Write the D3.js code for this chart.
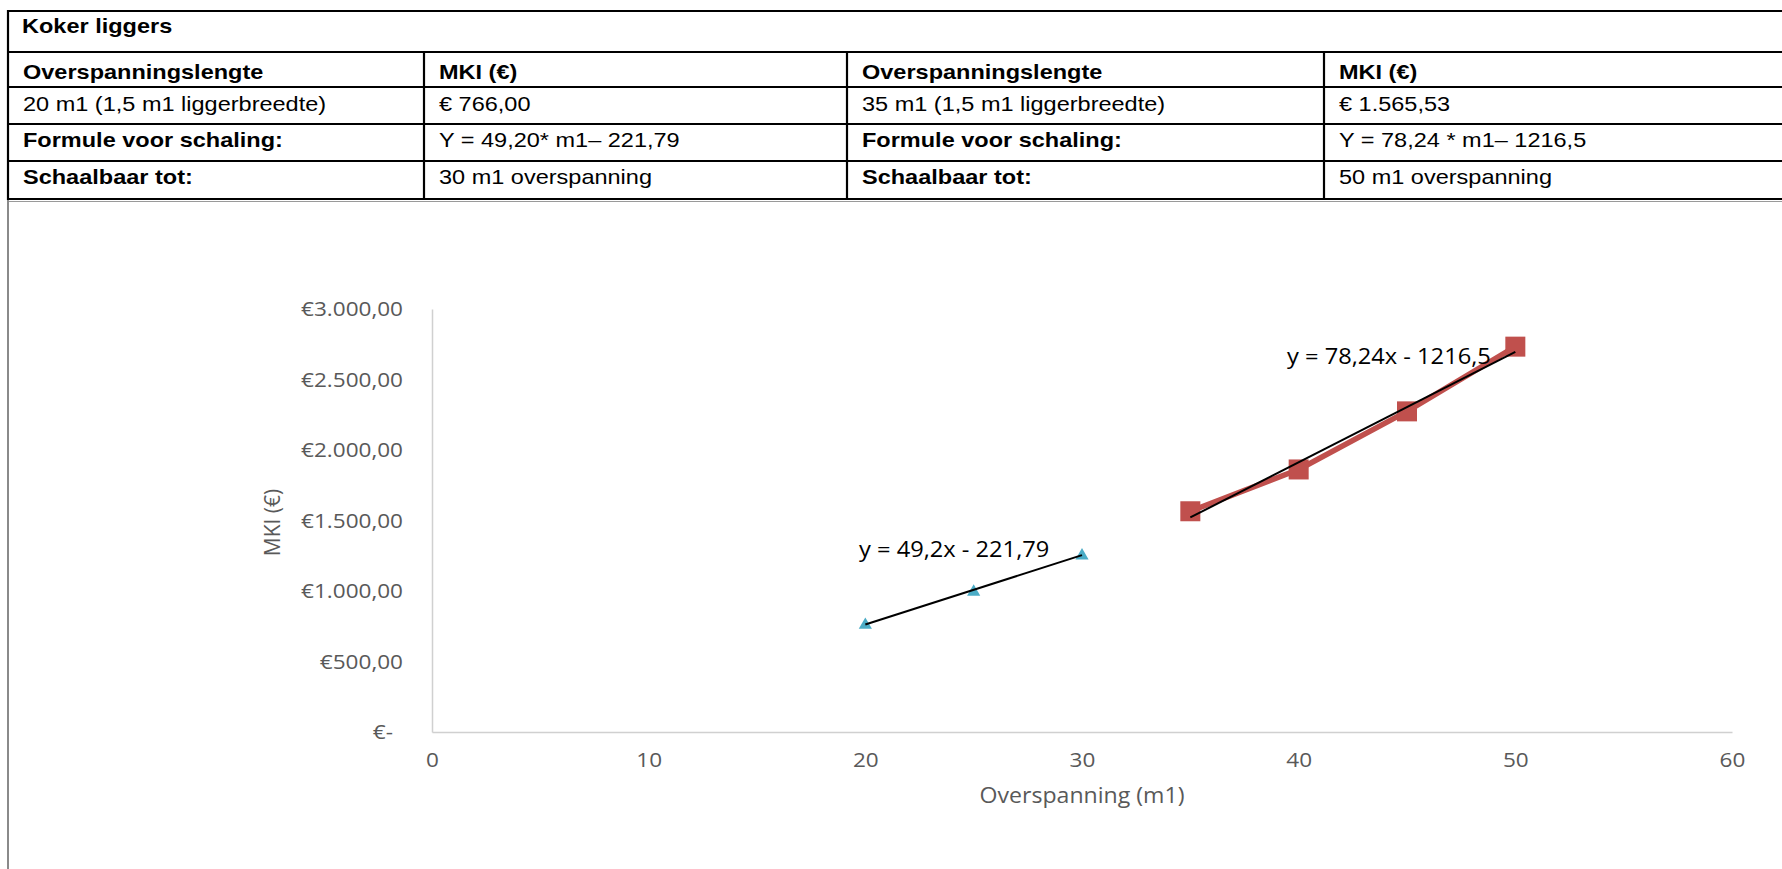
<!DOCTYPE html>
<html>
<head>
<meta charset="utf-8">
<script src="https://cdn.jsdelivr.net/npm/d3@7"></script>
<style>
body { margin: 0; background: #fff; }
svg { display: block; }
</style>
</head>
<body>
<div id="chart"></div>
<script>
// table texts
var tableTitle = "Koker liggers";
var headRow = ["Overspanningslengte", "MKI (€)", "Overspanningslengte", "MKI (€)"];
var lengthRow = ["20 m1 (1,5 m1 liggerbreedte)", "€ 766,00", "35 m1 (1,5 m1 liggerbreedte)", "€ 1.565,53"];
var formulaRow = ["Formule voor schaling:", "Y = 49,20* m1– 221,79", "Formule voor schaling:", "Y = 78,24 * m1– 1216,5"];
var limitRow = ["Schaalbaar tot:", "30 m1 overspanning", "Schaalbaar tot:", "50 m1 overspanning"];

// chart data
var spanA = [20, 25, 30];
var costA = [766, 1000.63, 1258];
var spanB = [35, 40, 45, 50];
var costB = [1565.53, 1862, 2274, 2733];
var trendA = [49.2, -221.79];
var trendB = [78.24, -1216.5];
var trendLabels = ["y = 49,2x - 221,79", "y = 78,24x - 1216,5"];

var xTicks = [0, 10, 20, 30, 40, 50, 60];
var yTicks = [0, 500, 1000, 1500, 2000, 2500, 3000];
var yTickLabels = ["€-", "€500,00", "€1.000,00", "€1.500,00", "€2.000,00", "€2.500,00", "€3.000,00"];

var w = 1782;
var h = 869;
var stretch = "scale(1.1,1)";

var svg = d3.select("#chart")
			.append("svg")
			.attr("width", w)
			.attr("height", h);

svg.append("rect").attr("width", w).attr("height", h).attr("fill", "#fff");

//---- table ----
var colX = [8, 424, 847, 1324];
var rowY = [11, 52, 87, 124, 161, 199];
var baseY = [33, 79, 111, 147, 184];
var rows = [headRow, lengthRow, formulaRow, limitRow];
var boldCols = [[0, 1, 2, 3], [], [0, 2], [0, 2]];

var table = svg.append("g")
			.style("font-family", "'Liberation Sans', Arial, sans-serif")
			.style("font-size", "21px")
			.attr("fill", "#000");

table.append("text")
	.attr("transform", "translate(" + (colX[0] + 14) + "," + baseY[0] + ") scale(1.12,1)")
	.style("font-weight", "bold")
	.text(tableTitle);

rows.forEach(function(r, ri) {
	r.forEach(function(t, ci) {
		table.append("text")
			.attr("transform", "translate(" + (colX[ci] + 15) + "," + baseY[ri + 1] + ") scale(1.12,1)")
			.style("font-weight", boldCols[ri].indexOf(ci) >= 0 ? "bold" : "normal")
			.text(t);
	});
});

// horizontal rules
rowY.forEach(function(y) {
	table.append("line")
		.attr("x1", colX[0]).attr("x2", w)
		.attr("y1", y).attr("y2", y)
		.attr("stroke", "#000").attr("stroke-width", 2.2);
});
// vertical rules
table.append("line")
	.attr("x1", colX[0]).attr("x2", colX[0])
	.attr("y1", rowY[0] - 1).attr("y2", rowY[5] + 1)
	.attr("stroke", "#000").attr("stroke-width", 2.2);
colX.slice(1).forEach(function(x) {
	table.append("line")
		.attr("x1", x).attr("x2", x)
		.attr("y1", rowY[1]).attr("y2", rowY[5])
		.attr("stroke", "#000").attr("stroke-width", 2.2);
});

// chart frame (grey)
svg.append("line")
	.attr("x1", colX[0]).attr("x2", w)
	.attr("y1", 201.5).attr("y2", 201.5)
	.attr("stroke", "#9a9a9a").attr("stroke-width", 1.2);
svg.append("line")
	.attr("x1", colX[0]).attr("x2", colX[0])
	.attr("y1", 200).attr("y2", h)
	.attr("stroke", "#8a8a8a").attr("stroke-width", 2);

//---- chart ----
var xScale = d3.scaleLinear()
				.domain([0, 60])
				.range([432, 1732]);

var yScale = d3.scaleLinear()
				.domain([0, 3000])
				.range([732, 309]);

var axisFont = "'Open Sans', 'Noto Sans', sans-serif";

var xAxis = d3.axisBottom(xScale)
				.tickValues(xTicks)
				.tickSize(0)
				.tickPadding(20)
				.tickFormat(function(d) { return d; });

var yAxis = d3.axisLeft(yScale)
				.tickValues(yTicks)
				.tickSize(0)
				.tickPadding(29)
				.tickFormat(function(d, i) { return yTickLabels[i]; });

var gx = svg.append("g")
			.attr("transform", "translate(0," + yScale(0) + ")")
			.call(xAxis);
var gy = svg.append("g")
			.attr("transform", "translate(" + xScale(0) + ",0)")
			.call(yAxis);

[gx, gy].forEach(function(g) {
	g.select(".domain").attr("stroke", "#d0d0d0").attr("stroke-width", 1.5);
	g.selectAll("text")
		.attr("fill", "#595959")
		.style("font-family", axisFont)
		.style("font-size", "20.5px");
});
gx.selectAll(".tick text").attr("transform", stretch);
// accounting format leaves a gap after "€-"
gy.selectAll(".tick text")
	.attr("transform", function(d) { return "translate(" + (d === 0 ? -39 : -29) + ",0) " + stretch; })
	.attr("x", 0);

svg.append("text")
	.attr("transform", "translate(" + ((xScale(0) + xScale(60)) / 2) + ",803) " + stretch)
	.attr("text-anchor", "middle")
	.attr("fill", "#595959")
	.style("font-family", axisFont)
	.style("font-size", "21px")
	.text("Overspanning (m1)");

svg.append("text")
	.attr("transform", "translate(280," + (yScale(1500) + 2) + ") rotate(-90)")
	.attr("text-anchor", "middle")
	.attr("fill", "#595959")
	.style("font-family", axisFont)
	.style("font-size", "21px")
	.text("MKI (€)");

// series B line (red)
var ptsB = spanB.map(function(s, i) { return [s, costB[i]]; });
var ptsA = spanA.map(function(s, i) { return [s, costA[i]]; });

var line = d3.line()
			.x(function(d) { return xScale(d[0]); })
			.y(function(d) { return yScale(d[1]); });

svg.append("path")
	.datum(ptsB)
	.attr("d", line)
	.attr("fill", "none")
	.attr("stroke", "#c0504d")
	.attr("stroke-width", 5.5)
	.attr("stroke-linejoin", "round");

svg.selectAll("rect.sq")
	.data(ptsB)
	.enter()
	.append("rect")
	.attr("class", "sq")
	.attr("x", function(d) { return xScale(d[0]) - 10; })
	.attr("y", function(d) { return yScale(d[1]) - 10; })
	.attr("width", 20)
	.attr("height", 20)
	.attr("fill", "#c0504d");

var tri = d3.symbol().type(d3.symbolTriangle).size(75);
svg.selectAll("path.tri")
	.data(ptsA)
	.enter()
	.append("path")
	.attr("class", "tri")
	.attr("d", tri)
	.attr("transform", function(d) { return "translate(" + xScale(d[0]) + "," + (yScale(d[1]) + 1) + ")"; })
	.attr("fill", "#4bacc6");

// trendlines
function trend(p, xs) {
	return [[xs[0], p[0] * xs[0] + p[1]], [xs[xs.length - 1], p[0] * xs[xs.length - 1] + p[1]]];
}
[[trendA, spanA], [trendB, spanB]].forEach(function(t) {
	svg.append("path")
		.datum(trend(t[0], t[1]))
		.attr("d", line)
		.attr("stroke", "#000")
		.attr("stroke-width", 2);
});

svg.append("text")
	.attr("transform", "translate(859,557) " + stretch)
	.attr("fill", "#000")
	.style("font-family", axisFont)
	.style("font-size", "21.5px")
	.text(trendLabels[0]);

svg.append("text")
	.attr("transform", "translate(1287,364) " + stretch)
	.attr("fill", "#000")
	.style("font-family", axisFont)
	.style("font-size", "21.5px")
	.text(trendLabels[1]);
</script>
</body>
</html>
